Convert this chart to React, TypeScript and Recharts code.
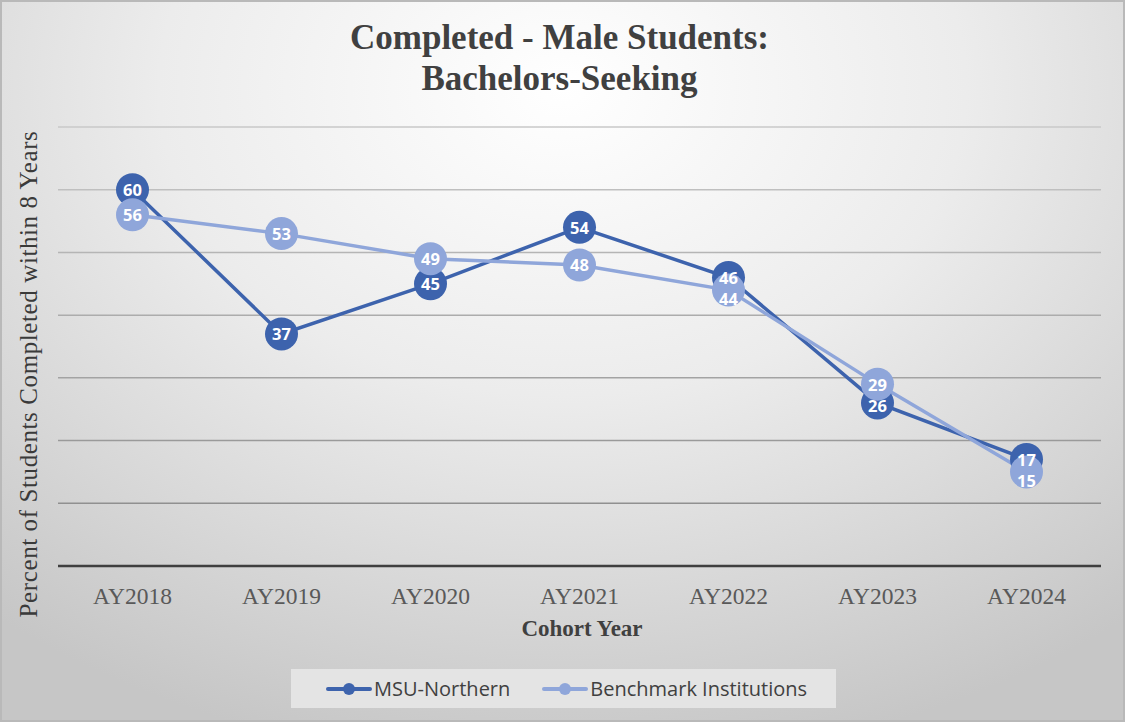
import { LineChart, Line, XAxis, YAxis, CartesianGrid, LabelList } from "recharts"

const cohorts = ["AY2018", "AY2019", "AY2020", "AY2021", "AY2022", "AY2023", "AY2024"]
const msuNorthern = [60, 37, 45, 54, 46, 26, 17]
const benchmark = [56, 53, 49, 48, 44, 29, 15]
const yTicks = [0, 10, 20, 30, 40, 50, 60, 70]

const data = cohorts.map((name, i) => ({ name, msu: msuNorthern[i], bench: benchmark[i] }))

const DARK = "#3d63ad"
const LIGHT = "#8fa6da"
const serif = "'Liberation Serif', 'DejaVu Serif', serif"
const sans = "'Open Sans', 'Liberation Sans', sans-serif"
const PX_PER_UNIT = 439 / 70

// push the lower label down when the two series sit close together
function makeLabel(own: number[], other: number[]) {
  return (props: any) => {
    const { x, y, value, index } = props
    const diff = other[index] - own[index]
    const dy = diff > 0 && diff <= 4 ? Math.max(0, 21 - diff * PX_PER_UNIT) : 0
    return (
      <text
        x={x}
        y={y + dy}
        textAnchor="middle"
        dominantBaseline="central"
        fill="#ffffff"
        fontFamily={sans}
        fontWeight="bold"
        fontSize={16.5}
      >
        {value}
      </text>
    )
  }
}

function gridLine(props: any) {
  const { x1, x2, y1, y2 } = props
  const t = Math.max(0, Math.min(1, (y1 - 127) / (566 - 127)))
  const c = Math.round(200 - t * 65)
  return <line x1={x1} x2={x2} y1={y1} y2={y2} stroke={`rgb(${c},${c},${c})`} strokeWidth={1.5} />
}

function LegendItem({ color, label, gap }: { color: string; label: string; gap: number }) {
  return (
    <div style={{ display: "flex", alignItems: "center", marginRight: gap }}>
      <svg width={46} height={14} style={{ marginRight: 2 }}>
        <line x1={2} y1={7} x2={44} y2={7} stroke={color} strokeWidth={4} strokeLinecap="round" />
        <circle cx={23} cy={7} r={6} fill={color} />
      </svg>
      <span>{label}</span>
    </div>
  )
}

export default function App() {
  return (
    <div
      style={{
        position: "relative",
        width: 1125,
        height: 722,
        boxSizing: "border-box",
        border: "2px solid #b9b9b9",
        background: "radial-gradient(ellipse 80% 95% at 50% 12%, #ffffff 0%, #ececec 45%, #d4d4d4 80%, #c6c6c6 100%)",
        overflow: "hidden",
      }}
    >
      <style>{`body{margin:0}`}</style>
      <div
        style={{
          position: "absolute",
          top: 15,
          left: 0,
          width: 1115,
          textAlign: "center",
          fontFamily: serif,
          fontWeight: "bold",
          fontSize: 35,
          lineHeight: "41px",
          color: "#404040",
        }}
      >
        Completed - Male Students:
        <br />
        Bachelors-Seeking
      </div>

      <div style={{ position: "absolute", left: -2, top: -2 }}>
        <LineChart width={1125} height={722} data={data} margin={{ top: 127, right: 24, left: 58, bottom: 116 }}>
          <CartesianGrid vertical={false} horizontal={gridLine} />
          <XAxis
            dataKey="name"
            height={40}
            padding={{ left: 74.5, right: 74.5 }}
            axisLine={{ stroke: "#3f3f3f", strokeWidth: 2.5 }}
            tickLine={false}
            tickMargin={15}
            tick={{ fill: "#595959", fontFamily: serif, fontSize: 23.5 }}
          />
          <YAxis hide domain={[0, 70]} ticks={yTicks} />
          <Line
            dataKey="msu"
            name="MSU-Northern"
            stroke={DARK}
            strokeWidth={3.5}
            dot={{ r: 16.5, fill: DARK, stroke: "none" }}
            activeDot={false}
            isAnimationActive={false}
          >
            <LabelList dataKey="msu" content={makeLabel(msuNorthern, benchmark)} />
          </Line>
          <Line
            dataKey="bench"
            name="Benchmark Institutions"
            stroke={LIGHT}
            strokeWidth={3.5}
            dot={{ r: 16.5, fill: LIGHT, stroke: "none" }}
            activeDot={false}
            isAnimationActive={false}
          >
            <LabelList dataKey="bench" content={makeLabel(benchmark, msuNorthern)} />
          </Line>
        </LineChart>
      </div>

      <div
        style={{
          position: "absolute",
          left: 27,
          top: 372,
          width: 0,
          height: 0,
          display: "flex",
          alignItems: "center",
          justifyContent: "center",
          transform: "rotate(-90deg)",
        }}
      >
        <span
          style={{
            whiteSpace: "nowrap",
            fontFamily: serif,
            fontSize: 25,
            letterSpacing: 0.6,
            color: "#3a3a3a",
          }}
        >
          Percent of Students Completed within 8 Years
        </span>
      </div>

      <div
        style={{
          position: "absolute",
          top: 614,
          left: 0,
          width: 1160,
          textAlign: "center",
          fontFamily: serif,
          fontWeight: "bold",
          fontSize: 23,
          color: "#404040",
        }}
      >
        Cohort Year
      </div>

      <div
        style={{
          position: "absolute",
          left: 289,
          top: 667,
          width: 545,
          height: 39,
          background: "#e4e4e4",
          display: "flex",
          alignItems: "center",
          fontFamily: sans,
          fontSize: 20,
          color: "#404040",
          paddingLeft: 35,
          boxSizing: "border-box",
        }}
      >
        <LegendItem color={DARK} label="MSU-Northern" gap={32} />
        <LegendItem color={LIGHT} label="Benchmark Institutions" gap={0} />
      </div>
    </div>
  )
}
